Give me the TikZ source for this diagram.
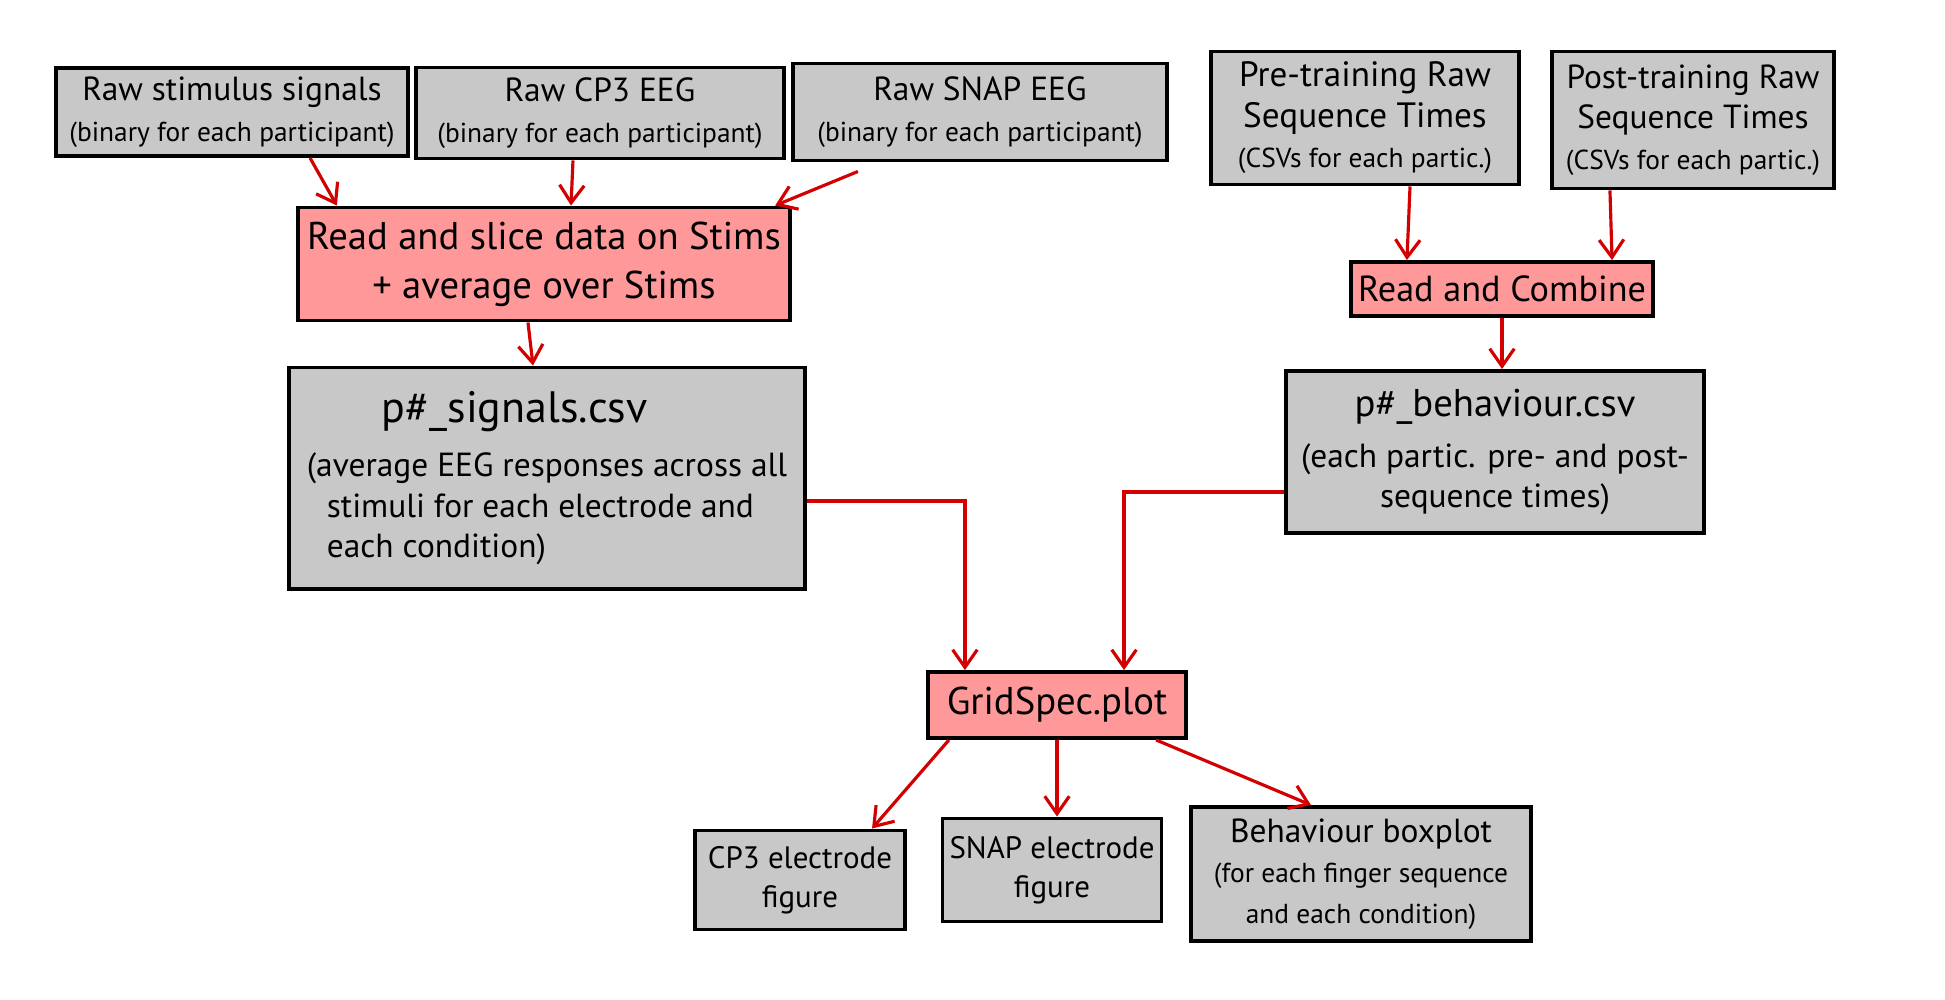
\documentclass[tikz,border=0pt]{standalone}
\usepackage{fontspec}
\setmainfont{PT Sans}
\usepackage{tikz}
\usetikzlibrary{arrows.meta}
\definecolor{boxgray}{RGB}{200,200,200}
\definecolor{steppink}{RGB}{255,153,153}
\definecolor{flowred}{RGB}{210,0,0}

\begin{document}
\begin{tikzpicture}[x=0.01cm, y=-0.01cm,
  data/.style={draw=black, line width=1.1pt, fill=boxgray, align=center, inner sep=2pt, font=\medtxt},
  proc/.style={draw=black, line width=1.1pt, fill=steppink, align=center, inner sep=2pt, font=\bigtxt},
  flow/.style={-{Straight Barb[length=5pt,width=7pt]}, draw=flowred, line width=0.9pt}]

\def\bigtxt{\fontsize{11}{14}\selectfont} % box titles
\def\medtxt{\fontsize{9.5}{11.5}\selectfont} % first lines
\def\smalltxt{\fontsize{7.8}{10}\selectfont} % notes in brackets

\useasboundingbox (0,0) rectangle (1945,1000);

% --- Raw EEG inputs ---
\node[data, minimum width=3.51cm, minimum height=0.88cm] (stim) at (232,112)
  {Raw stimulus signals\\\smalltxt (binary for each participant)};
\node[data, minimum width=3.67cm, minimum height=0.91cm] (cpeeg) at (600,113)
  {Raw CP3 EEG\\\smalltxt (binary for each participant)};
\node[data, minimum width=3.73cm, minimum height=0.97cm] (snapeeg) at (980,112)
  {Raw SNAP EEG\\\smalltxt (binary for each participant)};

% Slicing step
\node[proc, minimum width=4.92cm, minimum height=1.13cm] (slice) at (544,264)
  {Read and slice data on Stims\\+ average over Stims};

% Signals file
\node[data, minimum width=5.16cm, minimum height=2.21cm, align=left] (signals) at (547,478)
  {\fontsize{12.5}{14}\selectfont\hspace*{0.75cm}p\#\_signals.csv\\[4pt]
   (average EEG responses across all\\
   \hspace*{0.2cm}stimuli for each electrode and\\
   \hspace*{0.2cm}each condition)};

% --- Raw behaviour inputs ---
\node[data, minimum width=3.07cm, minimum height=1.33cm, font=\fontsize{10}{11.5}\selectfont] (pre) at (1365,118)
  {Pre-training Raw\\Sequence Times\\\smalltxt (CSVs for each partic.)};
\node[data, minimum width=2.82cm, minimum height=1.37cm] (post) at (1693,120)
  {Post-training Raw\\Sequence Times\\\smalltxt (CSVs for each partic.)};

% Combining step
\node[proc, minimum width=3.02cm, minimum height=0.54cm, font=\fontsize{10.3}{12}\selectfont] (combine) at (1502,289)
  {Read and Combine};

% Behaviour file
\node[data, minimum width=4.18cm, minimum height=1.62cm] (behav) at (1495,452)
  {\bigtxt p\#\_behaviour.csv\\[3pt]
   (each partic. pre- and post-\\sequence times)};

% --- Plotting ---
\node[proc, minimum width=2.58cm, minimum height=0.66cm] (grid) at (1057,705)
  {GridSpec.plot};

\node[data, minimum width=2.10cm, minimum height=0.99cm, font=\fontsize{8.8}{11}\selectfont] (cpfig) at (800,880)
  {CP3 electrode\\figure};
\node[data, minimum width=2.14cm, minimum height=1.03cm, font=\fontsize{8.8}{11}\selectfont] (snapfig) at (1052,870)
  {SNAP electrode\\figure};
\node[data, minimum width=3.40cm, minimum height=1.34cm] (boxfig) at (1361,874)
  {Behaviour boxplot\\\smalltxt (for each finger sequence\\\smalltxt and each condition)};

% Arrows into slicing
\draw[flow] ([xshift=0.78cm]stim.south) -- ([xshift=-2.07cm]slice.north);
\draw[flow] ([xshift=-0.27cm]cpeeg.south) -- ([xshift=0.27cm]slice.north);
\draw[flow] ([xshift=-1.22cm, yshift=-0.09cm]snapeeg.south) -- ([xshift=2.31cm]slice.north);
\draw[flow] ([xshift=-0.16cm]slice.south) -- ([xshift=-0.14cm]signals.north);

% Arrows into combining
\draw[flow] ([xshift=0.45cm]pre.south) -- ([xshift=-0.95cm]combine.north);
\draw[flow] ([xshift=-0.83cm]post.south) -- ([xshift=1.1cm]combine.north);
\draw[flow] (combine.south) -- (combine.south |- behav.north);

% Files into plotting
\draw[flow] ([yshift=-0.23cm]signals.east) -| ([xshift=-0.92cm]grid.north);
\draw[flow] ([yshift=-0.4cm]behav.west) -| ([xshift=0.67cm]grid.north);

% Plotting outputs
\draw[flow] ([xshift=-1.08cm]grid.south) -- ([xshift=0.72cm]cpfig.north);
\draw[flow] (grid.south) -- (grid.south |- snapfig.north);
\draw[flow] ([xshift=0.99cm]grid.south) -- ([xshift=-0.5cm]boxfig.north);

\end{tikzpicture}
\end{document}
